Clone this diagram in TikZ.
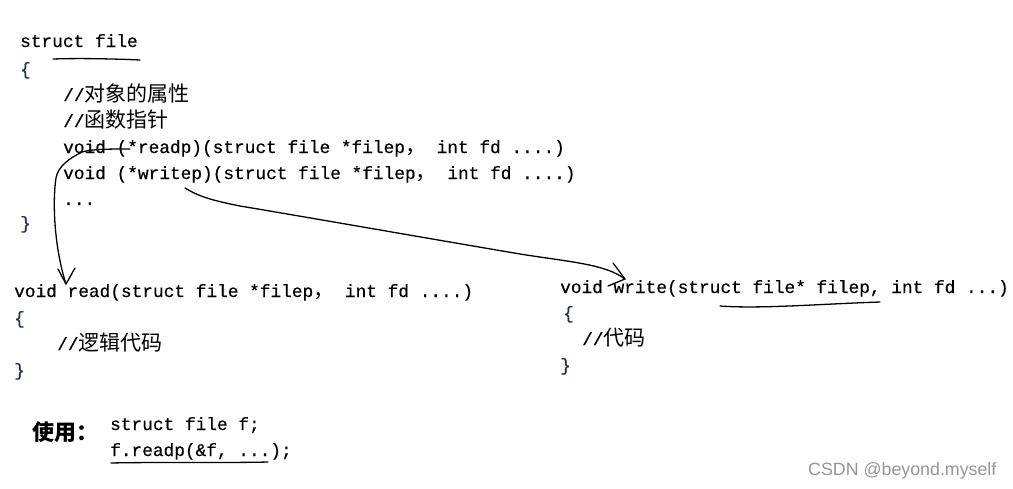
\documentclass[tikz,border=0pt]{standalone}
\usepackage{fontspec}
\setmonofont[FakeBold=0.4]{Liberation Mono}
\newfontfamily\cjk{Noto Sans CJK SC}
\newfontfamily\wmfont{Liberation Sans}
\newcommand{\zh}[1]{{\cjk\fontsize{21}{24}\selectfont #1}}
\definecolor{bracec}{RGB}{35,45,85}
\definecolor{wmgray}{RGB}{150,150,150}
\tikzset{
  code/.style={anchor=base west, inner sep=0pt, font=\ttfamily\fontsize{17.8}{20}\selectfont},
  brace/.style={code, text=bracec},
  hand/.style={line width=1.3pt, line cap=round, line join=round},
}
\begin{document}
\begin{tikzpicture}[x=1pt,y=-1pt]
\useasboundingbox[fill=white] (0,0) rectangle (1013,488);
% struct file
\node[code] (c1) at (20,47) {struct file};
\node[brace] (c2) at (20,75) {\{};
\node[code] (c3) at (63,101) {//\zh{对象的属性}};
\node[code] (c4) at (63,127) {//\zh{函数指针}};
\node[code] (c5) at (63,153) {void (*readp)(struct file *filep\zh{，} int fd ....)};
\node[code] (c6) at (63,179) {void (*writep)(struct file *filep\zh{，} int fd ....)};
\node[code] (c7) at (63,205) {...};
\node[brace] (c8) at (20,229) {\}};
% read
\node[code] (r1) at (14,297) {void read(struct file *filep\zh{，} int fd ....)};
\node[brace] (r2) at (14,324) {\{};
\node[code] (r3) at (57,350) {//\zh{逻辑代码}};
\node[brace] (r4) at (14,376) {\}};
% write
\node[code] (w1) at (560,293) {void write(struct file* filep, int fd ...)};
\node[brace] (w2) at (563,319) {\{};
\node[code] (w3) at (582,345) {//\zh{代码}};
\node[brace] (w4) at (560,371) {\}};
% usage
\node[anchor=base west, inner sep=0pt, font=\cjk\bfseries\fontsize{22}{24}\selectfont] (u0) at (32,440) {使用：};
\node[code] (u1) at (110,430) {struct file f;};
\node[code] (u2) at (110,456) {f.readp(\&f, ...);};
% watermark
\node[anchor=base west, inner sep=0pt, text=wmgray, font=\wmfont\fontsize{17.8}{20}\selectfont] (wm) at (808,475) {CSDN @beyond.myself};
% hand-drawn marks
\coordinate (rs) at (130,149);
\coordinate (re) at (66,284);
\draw[hand] (rs) .. controls (110,149) and (92,149) .. (82,152)
  .. controls (70,158) and (58,166) .. (56,178)
  .. controls (52,205) and (55,250) .. (re);
\draw[hand] (58,269) -- (re) -- (75,268);
\coordinate (ws) at (185,188);
\coordinate (we) at (625,279);
\draw[hand] (ws) .. controls (198,196) and (210,200) .. (240,206)
  .. controls (300,216) and (420,237) .. (520,254)
  .. controls (570,262) and (605,264) .. (we);
\draw[hand] (613,263) -- (we) -- (608,286);
\coordinate (ul1a) at (53,59);
\coordinate (ul1b) at (140,60);
\draw[hand] (ul1a) .. controls (80,58) and (120,59) .. (ul1b);
\coordinate (ul2a) at (720,306);
\coordinate (ul2b) at (880,302);
\draw[hand] (ul2a) .. controls (760,309) and (820,304) .. (ul2b);
\coordinate (ul3a) at (111,463);
\coordinate (ul3b) at (268,462);
\draw[hand] (ul3a) .. controls (150,462) and (230,463) .. (ul3b);
\end{tikzpicture}
\end{document}
